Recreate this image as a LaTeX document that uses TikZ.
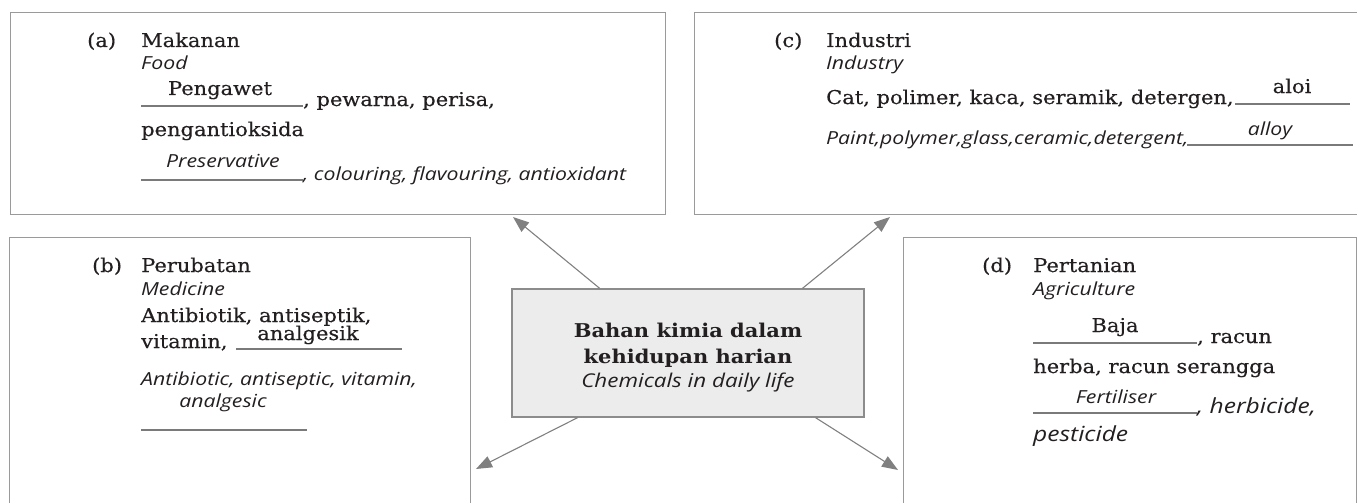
\documentclass[tikz,border=0pt]{standalone}
\usepackage{fontspec}
\setmainfont{DejaVu Serif}[FakeStretch=1.105, UprightFeatures={FakeBold=0.4}]
\newfontfamily\engfont{Open Sans}[FakeStretch=1.18]
\usetikzlibrary{arrows.meta,calc}
\definecolor{boxgray}{HTML}{9A9A9A}
\definecolor{cenfill}{HTML}{ECECEC}
\definecolor{cenline}{HTML}{8C8C8C}
\definecolor{arrgray}{HTML}{808080}
\definecolor{linegray}{HTML}{7A7A7A}
\definecolor{txt}{HTML}{231F20}
\tikzset{
  panel/.style={draw=boxgray, line width=1.4pt, rectangle, inner sep=0pt, anchor=north west},
  ms/.style={anchor=base west, inner sep=0pt, text=txt, font=\fontsize{19}{23}\selectfont},
  msc/.style={ms, anchor=base},
  en/.style={anchor=base west, inner sep=0pt, text=txt, font=\fontsize{18}{22}\selectfont\engfont\itshape},
  enc/.style={en, anchor=base},
  enbig/.style={en, font=\fontsize{20.8}{25}\selectfont\engfont\itshape},
  blank/.style={draw=linegray, line width=1.2pt},
  arr/.style={draw=arrgray, line width=1.1pt, -{Triangle[length=16pt,width=12pt]}},
}
\begin{document}
\begin{tikzpicture}[x=1pt,y=-1pt]
\useasboundingbox (0,0) rectangle (1357,503);
\clip (0,0) rectangle (1357,503);
% panels
\node[panel, minimum width=655pt, minimum height=202pt] (boxa) at (10,12) {};
\node[panel, minimum width=680pt, minimum height=202pt] (boxc) at (694,12) {};
\node[panel, minimum width=461pt, minimum height=290pt] (boxb) at (9,237) {};
\node[panel, minimum width=453pt, minimum height=290pt] (boxd) at (903,237) {};
% centre
\node[draw=cenline, fill=cenfill, line width=1.3pt, minimum width=352pt, minimum height=128pt, inner sep=0pt] (cen) at (688,353) {};
\node[anchor=base, inner sep=0pt, text=txt, font=\fontsize{19}{23}\selectfont\bfseries] (t1) at (688,337) {Bahan kimia dalam};
\node[anchor=base, inner sep=0pt, text=txt, font=\fontsize{19}{23}\selectfont\bfseries] (t2) at (688,363) {kehidupan harian};
\node[anchor=base, inner sep=0pt, text=txt, font=\fontsize{19}{23}\selectfont\engfont\itshape] (t3) at (688,387) {Chemicals in daily life};
% (a)
\node[ms] (la) at (87,47) {(a)};
\node[ms] (a1) at (141,47) {Makanan};
\node[en] (a2) at (141,70) {Food};
\draw[blank] (141,106) -- (303,106);
\node[msc] (a3) at (220,95) {Pengawet};
\node[ms] (a4) at (303,106) {, pewarna, perisa,};
\node[ms] (a5) at (141,136) {pengantioksida};
\node[enc] (a6) at (223,167) {Preservative};
\draw[blank] (141,180) -- (303,180);
\node[en] (a7) at (303,180) {, colouring, flavouring, antioxidant};
% (c)
\node[ms] (lc) at (774,47) {(c)};
\node[ms] (c1) at (826,47) {Industri};
\node[en] (c2) at (826,70) {Industry};
\node[ms] (c3) at (826,104) {Cat, polimer, kaca, seramik, detergen,};
\draw[blank] (1235,104) -- (1350,104);
\node[msc] (c4) at (1292,93) {aloi};
\node[en] (c5) at (826,144) {Paint,polymer,glass,ceramic,detergent,};
\draw[blank] (1187,145) -- (1353,145);
\node[enc] (c6) at (1270,135) {alloy};
% (b)
\node[ms] (lb) at (92,272) {(b)};
\node[ms] (b1) at (141,272) {Perubatan};
\node[en] (b2) at (141,295) {Medicine};
\node[ms] (b3) at (141,322) {Antibiotik, antiseptik,};
\node[ms] (b4) at (141,348) {vitamin,};
\draw[blank] (236,349) -- (402,349);
\node[msc] (b5) at (308,340) {analgesik};
\node[en] (b6) at (141,385) {Antibiotic, antiseptic, vitamin,};
\node[enc] (b7) at (223,407) {analgesic};
\draw[blank] (141,430) -- (307,430);
% (d)
\node[ms] (ld) at (982,272) {(d)};
\node[ms] (d1) at (1033,272) {Pertanian};
\node[en] (d2) at (1033,295) {Agriculture};
\draw[blank] (1033,343) -- (1197,343);
\node[msc] (d3) at (1115,332) {Baja};
\node[ms] (d4) at (1197,343) {, racun};
\node[ms] (d5) at (1033,373) {herba, racun serangga};
\node[enc] (d6) at (1116,403) {Fertiliser};
\draw[blank] (1033,413) -- (1197,413);
\node[enbig] (d7) at (1197,413) {, herbicide,};
\node[enbig] (d8) at (1033,441) {pesticide};
% arrows
\coordinate (sa) at ($(cen.north west)!0.25!(cen.north east)$);
\coordinate (sc) at ($(cen.north west)!0.824!(cen.north east)$);
\coordinate (sb) at ($(cen.south west)!0.1875!(cen.south east)$);
\coordinate (sd) at ($(cen.south west)!0.861!(cen.south east)$);
\coordinate (ta) at (513,217);
\coordinate (tc) at (890,217);
\coordinate (tb) at (476,469);
\coordinate (td) at (898,470);
\draw[arr] (sa) -- (ta);
\draw[arr] (sc) -- (tc);
\draw[arr] (sb) -- (tb);
\draw[arr] (sd) -- (td);
\end{tikzpicture}
\end{document}
